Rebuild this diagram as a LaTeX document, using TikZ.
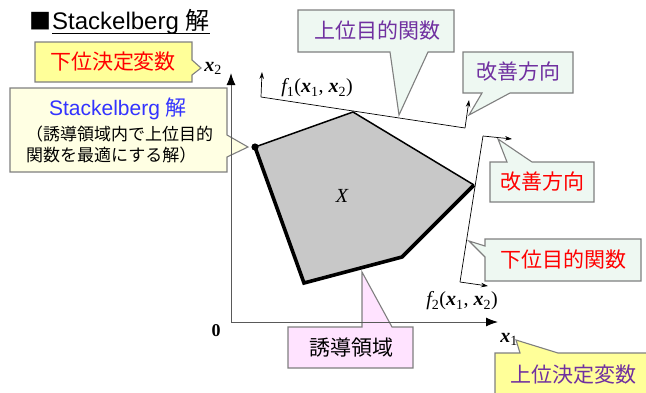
\documentclass[tikz,border=0pt]{standalone}
\usepackage{fontspec}
\setmainfont{Liberation Serif}
\newfontfamily\jp{Noto Sans CJK JP}
\newfontfamily\lat{Liberation Sans}
\usetikzlibrary{arrows.meta}
\definecolor{cborder}{HTML}{7F7F7F}
\definecolor{yel}{HTML}{FFFF99}
\definecolor{lyel}{HTML}{FFFFE3}
\definecolor{mint}{HTML}{EEF8F2}
\definecolor{pinkf}{HTML}{FFE3FF}
\definecolor{purp}{HTML}{7030A0}
\definecolor{redt}{HTML}{FF0000}
\definecolor{bluet}{HTML}{3333FF}
\definecolor{polyf}{HTML}{C8C8C8}
\newcommand{\bx}{{\bfseries\itshape x}}
\newcommand{\sbs}[1]{\textsubscript{#1}}
\tikzset{
  cbox/.style={draw=cborder, line width=1.1pt, line join=miter},
  jtxt/.style={font=\jp\fontsize{21}{24}\selectfont, inner sep=0pt},
  axisline/.style={draw=black!65, line width=1pt, -{Latex[length=12pt,width=9pt,color=black]}},
  farrow/.style={black, line width=0.7pt, -{Stealth[length=7pt,width=4.5pt]}},
  fline/.style={black, line width=0.7pt},
  thinedge/.style={black, line width=1.5pt, line join=miter},
  thickedge/.style={black, line width=3.6pt, line join=miter, line cap=butt},
  mlab/.style={font=\fontsize{20}{22}\selectfont, inner sep=0pt},
}
\begin{document}
\begin{tikzpicture}[x=1pt,y=-1pt]
\useasboundingbox (0,0) rectangle (646,392);
\clip (0,0) rectangle (646,392);

% ---------- title
\node[font=\jp\fontsize{22}{24}\selectfont, inner sep=0pt, anchor=west] (sq) at (29,21) {■};
\node[font=\lat\fontsize{24}{26}\selectfont, inner sep=0pt, anchor=base west] (title) at (52,29) {Stackelberg {\jp 解}};
\draw[black, line width=1pt] (title.base west) ++(0,4) coordinate (ul1) -- (title.base east |- ul1);

% ---------- callouts
% lower decision variable
\draw[cbox, fill=yel] (35,42) -- (192,42) -- (192,60) -- (201,68) -- (192,75) -- (192,82) -- (35,82) -- cycle;
\node[jtxt, text=redt] (ldv) at (113,62) {下位決定変数};

% Stackelberg solution
\draw[cbox, fill=lyel] (10,88) -- (227,88) -- (227,135) -- (248,147) -- (227,157) -- (227,172) -- (10,172) -- cycle;
\node[font=\lat\fontsize{21}{24}\selectfont, text=bluet, inner sep=0pt] (ss) at (118,109) {Stackelberg {\jp 解}};
\node[font=\jp\fontsize{17}{20}\selectfont, inner sep=0pt, anchor=west] (ss1) at (26,134) {（誘導領域内で上位目的};
\node[font=\jp\fontsize{17}{20}\selectfont, inner sep=0pt, anchor=west] (ss2) at (26,155) {関数を最適にする解）};

% upper objective
\draw[cbox, fill=mint] (298,10) -- (454,10) -- (454,52) -- (428,52) -- (399,115) -- (390,52) -- (298,52) -- cycle;
\node[jtxt, text=purp] (uof) at (377,31) {上位目的関数};

% improvement direction (purple)
\draw[cbox, fill=mint] (463,52) -- (573,52) -- (573,93) -- (510,93) -- (469,115) -- (482,93) -- (463,93) -- cycle;
\node[jtxt, text=purp] (imp1) at (518,72) {改善方向};

% improvement direction (red)
\draw[cbox, fill=mint] (490,162) -- (507,162) -- (498,139) -- (532,162) -- (594,162) -- (594,202) -- (490,202) -- cycle;
\node[jtxt, text=redt] (imp2) at (542,182) {改善方向};

% lower objective
\draw[cbox, fill=mint] (485,239) -- (641,239) -- (641,281) -- (485,281) -- (485,257) -- (469,241) -- (485,246) -- cycle;
\node[jtxt, text=redt] (lof) at (563,260) {下位目的関数};

% inducible region
\draw[cbox, fill=pinkf] (288,327) -- (362,327) -- (362,272) -- (392,327) -- (413,327) -- (413,368) -- (288,368) -- cycle;
\node[jtxt, text=black] (ir) at (351,348) {誘導領域};

% upper decision variable
\draw[cbox, fill=yel] (495,353) -- (520,353) -- (516,340) -- (558,353) -- (660,353) -- (660,400) -- (495,400) -- cycle;
\node[jtxt, text=purp] (udv) at (573,375) {上位決定変数};

% ---------- feasible region X
\coordinate (P1) at (255,147);
\coordinate (P2) at (353,112);
\coordinate (P3) at (474,185);
\coordinate (P4) at (402,257);
\coordinate (P5) at (304,283);
\fill[polyf] (P1) -- (P2) -- (P3) -- (P4) -- (P5) -- cycle;
\draw[thinedge] (P1) -- (P2) -- (P3);
\draw[thickedge] (P3) -- (P4) -- (P5) -- (P1);
\fill[black] (P1) circle (3.6);
\node[mlab, font=\fontsize{20}{22}\selectfont\itshape] (X) at (342,196) {X};

% ---------- axes
\coordinate (O) at (231,322);
\coordinate (Ytop) at (231,73);
\coordinate (Xend) at (498,322);
\draw[axisline] (O) -- (Ytop);
\draw[axisline] (O) -- (Xend);
\node[font=\fontsize{18}{20}\selectfont\bfseries, inner sep=0pt] (zero) at (216,331) {0};
\node[mlab] (x1) at (509,339) {\bx\sbs{1}};
\node[mlab] (x2) at (213,68) {\bx\sbs{2}};

% ---------- objective contour lines
\coordinate (f1a) at (261,97);
\coordinate (f1at) at (262,72);
\coordinate (f1b) at (465,128);
\coordinate (f1bt) at (469,100);
\draw[farrow] (f1a) -- (f1at);
\draw[fline] (f1a) -- (f1b);
\draw[farrow] (f1b) -- (f1bt);
\node[mlab] (f1lab) at (317,88) {{\itshape f}\sbs{1}(\bx\sbs{1}, \bx\sbs{2})};

\coordinate (f2a) at (483,136);
\coordinate (f2at) at (512,139);
\coordinate (f2b) at (460,282);
\coordinate (f2bt) at (488,286);
\draw[farrow] (f2a) -- (f2at);
\draw[fline] (f2a) -- (f2b);
\draw[farrow] (f2b) -- (f2bt);
\node[mlab] (f2lab) at (462,301) {{\itshape f}\sbs{2}(\bx\sbs{1}, \bx\sbs{2})};
\end{tikzpicture}
\end{document}
